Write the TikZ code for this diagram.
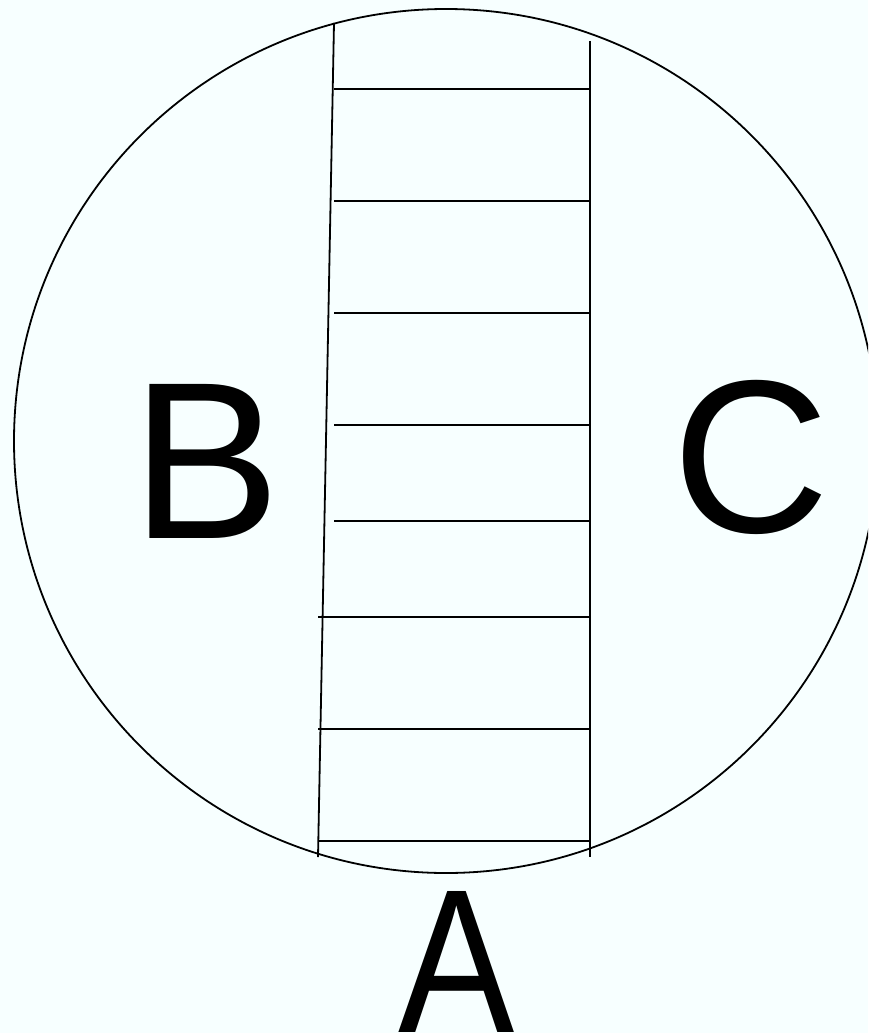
\documentclass[tikz,border=0pt]{standalone}
\usepackage{fontspec}
\setmainfont{Liberation Sans}
\definecolor{bgcol}{HTML}{F7FFFF}
\begin{document}
\begin{tikzpicture}[x=1pt,y=-1pt,
  ln/.style={line width=1.8pt,black},
  lbl/.style={inner sep=0pt,anchor=base}]
\fill[bgcol] (0,0) rectangle (868,1033);
\useasboundingbox (0,0) rectangle (868,1033);
\begin{scope}
\clip (0,0) rectangle (868,1033);
\draw[ln] (446,441) circle[radius=432];
\end{scope}
% ladder rails
\coordinate (lt) at (334,23);
\coordinate (lb) at (318,857);
\coordinate (rt) at (590,41);
\coordinate (rb) at (590,857);
\draw[ln] (lt) -- (lb);
\draw[ln] (rt) -- (rb);
% rungs
\foreach \y in {89,201,313,425,521} \draw[ln] (334,\y) -- (590,\y);
\foreach \y in {617,729,841} \draw[ln] (318,\y) -- (590,\y);
% labels
\node[lbl,font=\fontsize{224}{224}\selectfont] (B) at (206,538) {B};
\node[lbl,font=\fontsize{218}{218}\selectfont] (C) at (751,532) {C};
\node[lbl,font=\fontsize{205}{205}\selectfont,xscale=0.85] (A) at (457,1032) {A};
\end{tikzpicture}
\end{document}
